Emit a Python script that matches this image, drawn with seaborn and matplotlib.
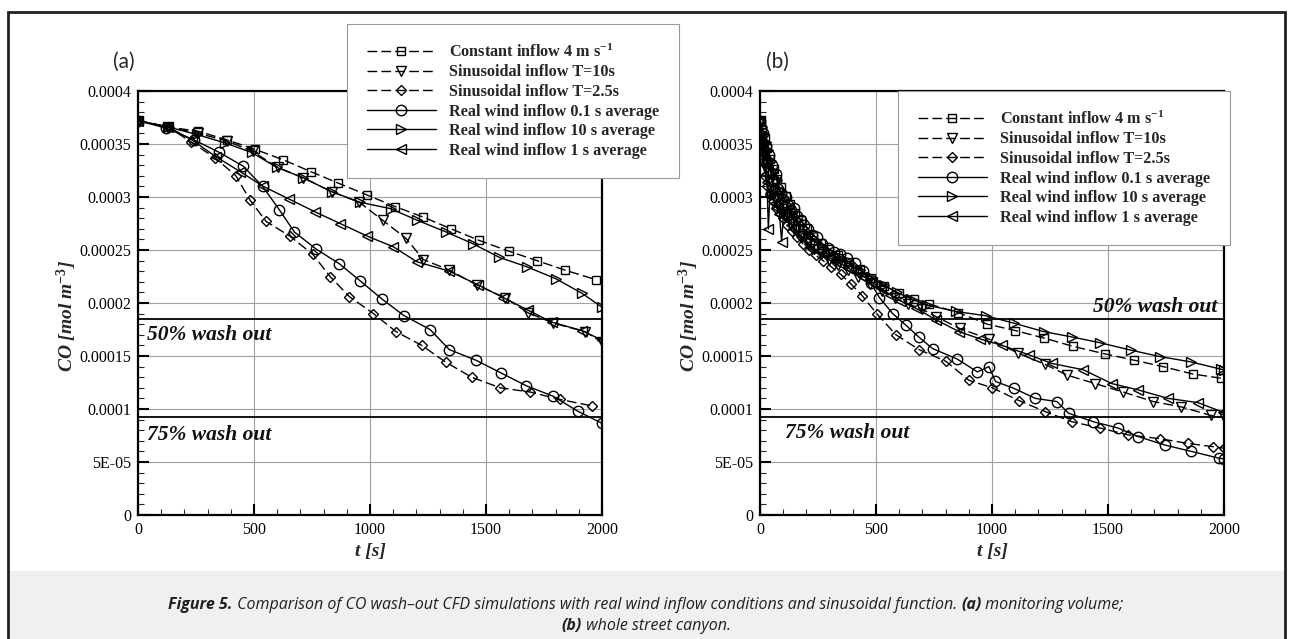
import numpy as np
import pandas as pd
import matplotlib
matplotlib.use("Agg")
import matplotlib.pyplot as plt
import seaborn as sns
from matplotlib.ticker import FixedLocator, FixedFormatter, MultipleLocator
from matplotlib.patches import Rectangle
from matplotlib import font_manager

# ---- series labels / styles ----
LABELS = [r"Constant inflow 4 m s$^{-1}$",
          "Sinusoidal inflow T=10s",
          "Sinusoidal inflow T=2.5s",
          "Real wind inflow 0.1 s average",
          "Real wind inflow 10 s average",
          "Real wind inflow 1 s average"]
MARKERS = ["s", "v", "D", "o", ">", "<"]
DASHES = [(7, 3), (7, 3), (7, 3), "", "", ""]
MSIZE = {"s": 6.0, "v": 6.5, "D": 5.2, "o": 7.5, ">": 6.5, "<": 6.5}

# ---- panel (a): monitoring volume (values in 1e-6 mol m-3) ----
a_const_t = [0, 131, 260, 382, 504, 627, 744, 864, 986, 1108, 1230, 1349, 1471, 1597, 1719, 1841, 1974]
a_const_v = [372, 366, 362, 354, 345, 335, 324, 313, 302, 291, 281, 270, 259, 249, 240, 231, 222]

a_t10_t = [0, 131, 260, 382, 494, 602, 713, 835, 954, 1055, 1155, 1230, 1342, 1460, 1582, 1680, 1790, 1927, 2000]
a_t10_v = [372, 366, 360, 353, 343, 328, 318, 305, 295, 278, 261, 241, 231, 217, 205, 191, 181, 173, 163]

a_t25_t = [0, 131, 228, 332, 422, 483, 552, 655, 753, 828, 911, 1015, 1112, 1223, 1328, 1438, 1561, 1690, 1819, 1956]
a_t25_v = [372, 366, 352, 337, 320, 297, 277, 263, 246, 225, 206, 190, 173, 160, 144, 130, 120, 116, 109, 103]

a_r01_t = [0, 121, 240, 351, 454, 537, 609, 674, 767, 868, 957, 1050, 1147, 1259, 1342, 1457, 1565, 1673, 1790, 1895, 2000]
a_r01_v = [372, 365, 354, 342, 329, 310, 288, 267, 251, 237, 221, 204, 188, 175, 156, 146, 134, 122, 112, 98, 86.5]

a_r10_t = [0, 131, 253, 375, 490, 598, 713, 835, 957, 1089, 1204, 1328, 1443, 1558, 1678, 1800, 1915, 2000]
a_r10_v = [372, 366, 359, 351, 342, 328, 318, 305, 295, 289, 278, 267, 256, 243, 234, 223, 209, 196]

a_r1_t = [0, 131, 231, 336, 440, 540, 652, 763, 871, 989, 1101, 1201, 1342, 1467, 1575, 1683, 1783, 1913, 2000]
a_r1_v = [372, 366, 354, 338, 324, 310, 298, 286, 275, 263, 253, 239, 230, 217, 205, 193, 182, 174, 165]

# ---- panel (b): whole street canyon ----
b_const_t = [0, 10, 20, 32, 45, 60, 75, 92, 110, 130, 152, 176, 202, 230, 262, 298, 338, 382, 430, 480,
             535, 600, 665, 729, 855, 980, 1101, 1223, 1351, 1487, 1613, 1737, 1866, 1988]
b_const_v = [372, 364, 356, 346, 336, 326, 317, 309, 301, 293, 285, 278, 271, 264, 257, 251, 245, 239, 232, 224,
             216, 209, 204, 199, 191, 180, 174, 167, 159, 152, 146, 140, 133, 129]

b_t10_t = [0, 8, 16, 26, 38, 50, 64, 80, 96, 114, 134, 156, 180, 206, 234, 264, 298, 336, 378, 424,
           472, 524, 580, 640, 700, 760, 860, 987, 1110, 1230, 1323, 1444, 1566, 1695, 1816, 1942, 2000]
b_t10_v = [372, 356, 340, 326, 316, 306, 298, 292, 286, 281, 275, 269, 263, 257, 251, 246, 241, 236, 231, 225,
           218, 211, 205, 199, 194, 187, 176, 166, 153, 142, 132, 124, 116, 107, 102, 94, 92]

b_t25_t = [0, 6, 14, 22, 32, 44, 56, 70, 85, 100, 118, 138, 160, 184, 210, 240, 272, 308, 348, 392,
           440, 503, 586, 686, 801, 901, 1001, 1116, 1230, 1344, 1466, 1588, 1723, 1845, 1952, 2000]
b_t25_v = [372, 350, 333, 320, 310, 302, 296, 290, 285, 280, 274, 268, 262, 256, 250, 245, 240, 234, 227, 218,
           207, 190, 170, 156, 145, 127, 120, 108, 97.5, 88, 82, 75.5, 72, 67.5, 64.5, 63]

b_r01_t = [0, 4, 9, 14, 19, 25, 31, 38, 45, 53, 61, 70, 79, 89, 99, 110, 121, 133, 146, 160, 175, 191, 208, 226,
           246, 268, 292, 318, 346, 376, 408, 442, 478, 515, 572, 629, 686, 744, 851, 937, 987, 1015, 1094,
           1187, 1280, 1330, 1437, 1544, 1630, 1745, 1859, 1980, 2000]
b_r01_v = [372, 364, 352, 360, 342, 348, 334, 340, 324, 330, 316, 322, 308, 304, 298, 300, 292, 288, 290, 282,
           278, 274, 270, 264, 262, 256, 252, 248, 246, 242, 238, 230, 219, 205, 190, 179, 167.6, 157, 147, 135,
           140, 126, 119.5, 110, 107, 96, 88, 82, 74, 66, 60, 53.5, 53]

b_r10_t = [0, 7, 15, 24, 34, 46, 58, 72, 87, 103, 120, 140, 162, 186, 212, 240, 270, 304, 342, 384, 430, 480,
           535, 590, 650, 720, 844, 973, 1094, 1223, 1344, 1466, 1599, 1723, 1856, 1988, 2000]
b_r10_v = [372, 366, 360, 352, 344, 334, 325, 316, 307, 299, 292, 285, 278, 271, 264, 258, 252, 247, 242, 237,
           231, 225, 217, 210, 204, 198, 192, 188, 181, 173, 168, 162.5, 155.5, 149.5, 144.5, 137.5, 137]

b_r1_t = [0, 5, 11, 17, 24, 30, 36, 43, 50, 58, 66, 75, 84, 93, 102, 112, 123, 135, 148, 162, 177, 193, 210,
          229, 250, 272, 296, 322, 350, 380, 412, 446, 482, 520, 560, 605, 672, 760, 858, 950, 1044, 1160,
          1258, 1394, 1516, 1630, 1759, 1888, 1995]
b_r1_v = [372, 358, 344, 332, 322, 314, 270, 304, 308, 300, 294, 290, 284, 258, 286, 282, 278, 274, 270, 266,
          263, 259, 256, 252, 249, 246, 243, 240, 237, 233, 229, 225, 220, 214, 208, 202, 195, 184, 173, 166,
          160, 151, 143, 137, 124, 118, 110, 106, 97]

Y_TICKS = [0, 5e-5, 1e-4, 1.5e-4, 2e-4, 2.5e-4, 3e-4, 3.5e-4, 4e-4]
Y_TICKLABELS = ["0", "5E-05", "0.0001", "0.00015", "0.0002", "0.00025", "0.0003", "0.00035", "0.0004"]
X_TICKS = [0, 500, 1000, 1500, 2000]
HALF_WASH = 0.000185
QUARTER_WASH = 0.0000925


def make_frame(pairs):
    rows = []
    for lab, (t, v) in zip(LABELS, pairs):
        for ti, vi in zip(t, v):
            rows.append((lab, ti, vi * 1e-6))  # micro-mol -> mol
    return pd.DataFrame(rows, columns=["series", "t", "co"])


df_a = make_frame([(a_const_t, a_const_v), (a_t10_t, a_t10_v), (a_t25_t, a_t25_v),
                   (a_r01_t, a_r01_v), (a_r10_t, a_r10_v), (a_r1_t, a_r1_v)])
df_b = make_frame([(b_const_t, b_const_v), (b_t10_t, b_t10_v), (b_t25_t, b_t25_v),
                   (b_r01_t, b_r01_v), (b_r10_t, b_r10_v), (b_r1_t, b_r1_v)])

sns.set_style("white")
plt.rcParams.update({
    "font.family": ["Liberation Serif", "DejaVu Serif"],
    "mathtext.fontset": "custom",
    "mathtext.rm": "Liberation Serif:bold",
    "mathtext.it": "Liberation Serif:bold:italic",
    "mathtext.bf": "Liberation Serif:bold",
})

W, H = 1293, 639
fig = plt.figure(figsize=(W / 100, H / 100), dpi=100)

# caption band and outer frame
fig.patches.append(Rectangle((8 / W, 0), 1277 / W, 68 / H, transform=fig.transFigure,
                             facecolor="#eff0f2", edgecolor="none", zorder=0))
fig.patches.append(Rectangle((8 / W, -0.02), 1277 / W, (H - 12) / H + 0.02, transform=fig.transFigure,
                             fill=False, edgecolor="#231f20", linewidth=2.0, zorder=1))

label_font = dict(family="Liberation Serif", weight="bold", style="italic")


def draw_panel(ax, df):
    sns.lineplot(data=df, x="t", y="co", hue="series", style="series",
                 hue_order=LABELS, style_order=LABELS, palette=["black"] * 6,
                 markers=dict(zip(LABELS, MARKERS)), dashes=dict(zip(LABELS, DASHES)),
                 markerfacecolor="none", markeredgecolor="black", markeredgewidth=1.0,
                 linewidth=1.0, errorbar=None, legend=False, ax=ax)
    for ln in ax.lines:
        ln.set_markersize(MSIZE.get(ln.get_marker(), 6))
    handles = list(ax.lines[:6])

    ax.axhline(HALF_WASH, color="black", lw=1.3, zorder=1)
    ax.axhline(QUARTER_WASH, color="black", lw=1.3, zorder=1)

    ax.set_xlim(0, 2000)
    ax.set_ylim(0, 0.0004)
    ax.yaxis.set_major_locator(FixedLocator(Y_TICKS))
    ax.yaxis.set_major_formatter(FixedFormatter(Y_TICKLABELS))
    ax.yaxis.set_minor_locator(MultipleLocator(1e-5))
    ax.xaxis.set_major_locator(FixedLocator(X_TICKS))
    ax.xaxis.set_major_formatter(FixedFormatter([str(x) for x in X_TICKS]))
    ax.xaxis.set_minor_locator(MultipleLocator(100))
    ax.tick_params(which="major", direction="in", length=8, width=1.5, pad=5,
                   labelsize=11.5, colors="black", left=True, bottom=True)
    ax.tick_params(which="minor", direction="in", length=4, width=0.8, left=True, bottom=True)
    ax.grid(True, which="major", color="#a0a0a0", lw=0.8)
    ax.set_axisbelow(True)
    for sp in ax.spines.values():
        sp.set_linewidth(1.6)
        sp.set_color("black")

    ax.set_xlabel("t [s]", fontsize=14, **label_font)
    ax.set_ylabel(r"CO [mol m$^{-3}$]", fontsize=14, **label_font)
    ax.xaxis.set_label_coords(0.5, -0.066)
    ax.yaxis.set_label_coords(-0.127, 0.47)
    return handles


ax_a = fig.add_axes([138 / W, 1 - 515 / H, 464 / W, 424 / H])
ax_b = fig.add_axes([760 / W, 1 - 515 / H, 464 / W, 424 / H])
h_a = draw_panel(ax_a, df_a)
h_b = draw_panel(ax_b, df_b)

leg_kw = dict(loc="upper left", bbox_transform=fig.transFigure, frameon=True, fancybox=False,
              framealpha=1, edgecolor="#9a9a9a", handlelength=4.3, handletextpad=0.8,
              labelspacing=0.22, borderpad=1.2, borderaxespad=0,
              prop=dict(family="Liberation Serif", weight="bold", size=11.7))
leg_a = ax_a.legend(h_a, LABELS, bbox_to_anchor=(347 / W, 1 - 24 / H), **leg_kw)
leg_b = ax_b.legend(h_b, LABELS, bbox_to_anchor=(898 / W, 1 - 91 / H), **leg_kw)
for leg in (leg_a, leg_b):
    leg.get_frame().set_linewidth(0.8)
    leg.set_zorder(10)

wash_font = dict(fontsize=15.5, color="#111111", va="center", **label_font)
ax_a.text(0.02, 0.000170, "50% wash out", transform=ax_a.get_yaxis_transform(), ha="left", **wash_font)
ax_a.text(0.02, 0.0000755, "75% wash out", transform=ax_a.get_yaxis_transform(), ha="left", **wash_font)
ax_b.text(0.985, 0.000196, "50% wash out", transform=ax_b.get_yaxis_transform(), ha="right", **wash_font)
ax_b.text(0.054, 0.0000774, "75% wash out", transform=ax_b.get_yaxis_transform(), ha="left", **wash_font)

fig.text(124 / W, 1 - 62 / H, "(a)", family="Lato", fontsize=15, ha="center", va="center")
fig.text(777 / W, 1 - 62 / H, "(b)", family="Lato", fontsize=15, ha="center", va="center")

# caption with mixed bold/regular italic parts
names = {f.name for f in font_manager.fontManager.ttflist}
cap_family = "Liberation Sans Narrow" if "Liberation Sans Narrow" in names else "Open Sans"
cap_lines = [
    (1 - 605 / H, [("Figure 5.", "bold"),
                   (" Comparison of CO wash\u2013out CFD simulations with real wind inflow conditions "
                    "and sinusoidal function. ", "normal"),
                   ("(a)", "bold"), (" monitoring volume;", "normal")]),
    (1 - 626 / H, [("(b)", "bold"), (" whole street canyon.", "normal")]),
]
renderer = fig.canvas.get_renderer()
for y, parts in cap_lines:
    texts = [fig.text(0, y, s, family=cap_family, style="italic", weight=w, fontsize=11.5,
                      color="#231f20", va="center", ha="left") for s, w in parts]
    widths = [t.get_window_extent(renderer).width for t in texts]
    x = 646 - sum(widths) / 2
    for t, w in zip(texts, widths):
        t.set_x(x / W)
        x += w

fig.savefig("out.png", dpi=100)
